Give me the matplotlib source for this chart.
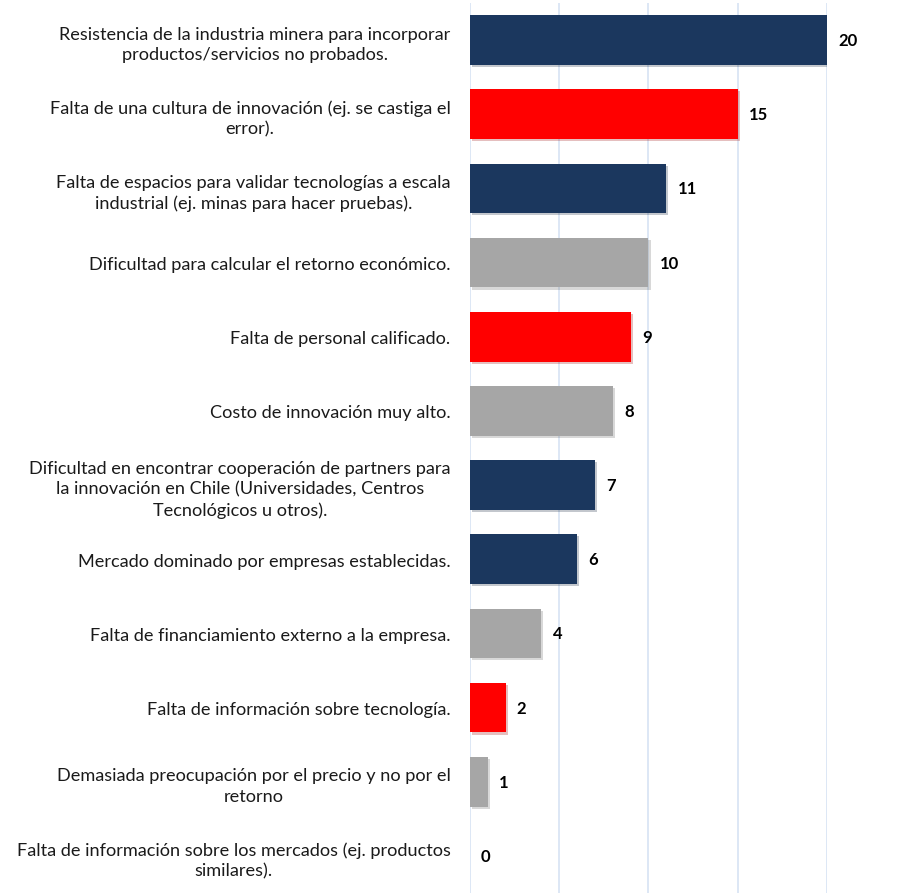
import matplotlib
matplotlib.use("Agg")
import matplotlib.pyplot as plt
import matplotlib.patheffects as pe

categories = [
    "Resistencia de la industria minera para incorporar\nproductos/servicios no probados.",
    "Falta de una cultura de innovación (ej. se castiga el\nerror).",
    "Falta de espacios para validar tecnologías a escala\nindustrial (ej. minas para hacer pruebas).",
    "Dificultad para calcular el retorno económico.",
    "Falta de personal calificado.",
    "Costo de innovación muy alto.",
    "Dificultad en encontrar cooperación de partners para\nla innovación en Chile (Universidades, Centros\nTecnológicos u otros).",
    "Mercado dominado por empresas establecidas.",
    "Falta de financiamiento externo a la empresa.",
    "Falta de información sobre tecnología.",
    "Demasiada preocupación por el precio y no por el\nretorno",
    "Falta de información sobre los mercados (ej. productos\nsimilares).",
]
values = [20, 15, 11, 10, 9, 8, 7, 6, 4, 2, 1, 0]
NAVY, RED, GRAY = "#1B375E", "#FF0000", "#A6A6A6"
colors = [NAVY, RED, NAVY, GRAY, RED, GRAY, NAVY, NAVY, GRAY, RED, GRAY, NAVY]

plt.rcParams['font.family'] = ['Lato', 'DejaVu Sans']

fig = plt.figure(figsize=(9.04, 8.95), dpi=100)
ax = fig.add_axes([470/904, 1 - 894/895, (827-470)/904, (894-4)/895])

n = len(values)
ypos = list(range(n))
bars = ax.barh(ypos, values, height=0.67, color=colors, zorder=3)
for b in bars:
    b.set_path_effects([pe.SimplePatchShadow(offset=(1.5, -1.5), alpha=0.25, rho=0.6), pe.Normal()])

ax.set_ylim(n - 0.5, -0.5)
ax.set_xlim(0, 20)
ax.set_xticks([0, 5, 10, 15, 20])
ax.grid(axis='x', color='#D3E0F2', linewidth=1.1, zorder=0)
ax.tick_params(axis='x', length=0, labelbottom=False)
ax.tick_params(axis='y', length=0, pad=14)
ax.set_yticks(ypos)
ax.set_yticklabels(categories, fontsize=13.1, color='#1a1a1a', multialignment='center',
                   linespacing=1.35)
for s in ax.spines.values():
    s.set_visible(False)

for y, v in zip(ypos, values):
    ax.annotate(str(v), xy=(v, y), xytext=(8, 0), textcoords='offset points',
                ha='left', va='center', fontsize=12, fontweight='bold', color='black',
                annotation_clip=False)

fig.savefig("out.png", dpi=100)
